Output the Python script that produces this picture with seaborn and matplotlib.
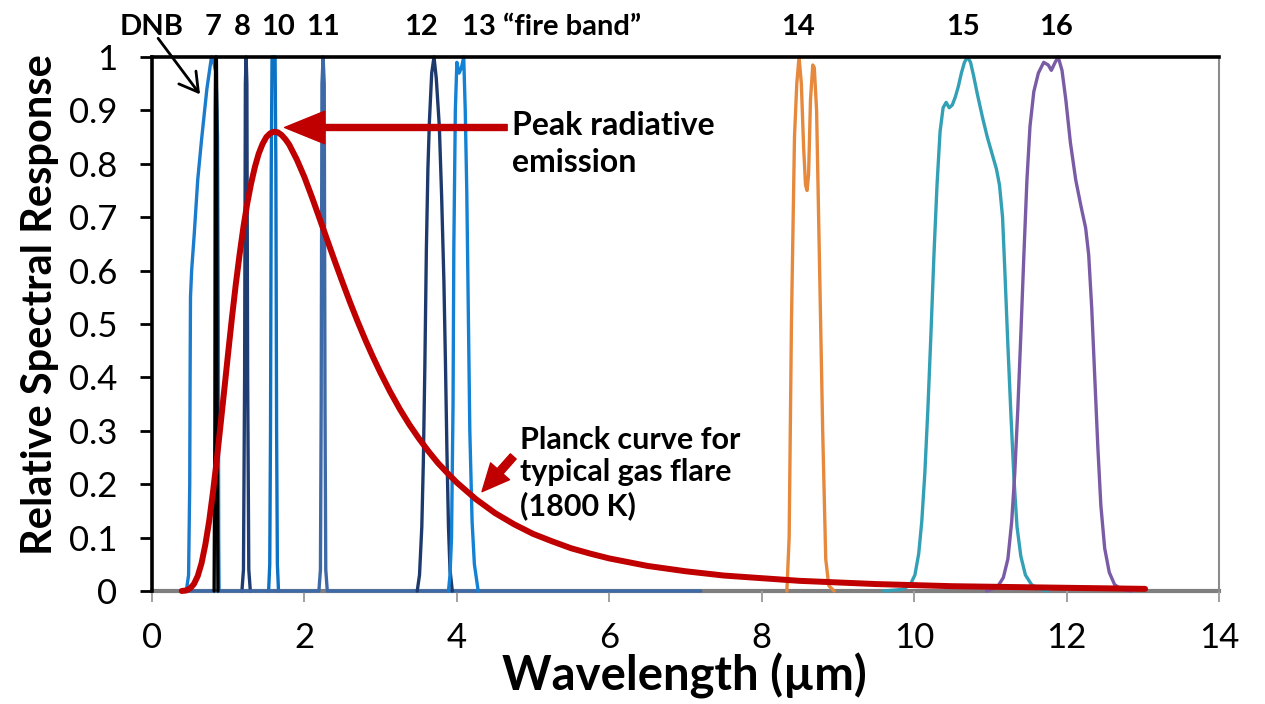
import matplotlib
matplotlib.use("Agg")
import matplotlib.pyplot as plt
import seaborn as sns

sns.set_theme(style="white")
plt.rcParams["font.family"] = ["Lato", "DejaVu Sans"]

# ---------------- spectral response of the VIIRS bands ----------------
dnb_wl = [0.45, 0.48, 0.495, 0.50, 0.505, 0.52, 0.555, 0.60, 0.65, 0.72, 0.76, 0.78, 0.81, 0.84, 0.86, 0.87, 0.875, 0.88]
dnb_rsp = [0.0, 0.03, 0.2, 0.4, 0.55, 0.6, 0.67, 0.77, 0.845, 0.94, 0.98, 1.0, 0.99, 0.97, 0.85, 0.5, 0.1, 0.0]

m7_wl = [0.815, 0.825, 0.83, 0.835, 0.845, 0.85, 0.855, 0.865]
m7_rsp = [0.0, 0.3, 0.9, 1.0, 1.0, 0.9, 0.3, 0.0]

m8_wl = [1.18, 1.20, 1.215, 1.225, 1.235, 1.245, 1.255, 1.27, 1.29]
m8_rsp = [0.0, 0.04, 0.4, 0.95, 1.0, 0.95, 0.4, 0.04, 0.0]

m10_wl = [1.53, 1.545, 1.555, 1.565, 1.575, 1.615, 1.625, 1.635, 1.645, 1.66]
m10_rsp = [0.0, 0.05, 0.3, 0.8, 1.0, 1.0, 0.8, 0.3, 0.05, 0.0]

# M11 series also carries the zero baseline out to 7.2 um
m11_wl = [0.38, 2.19, 2.21, 2.22, 2.23, 2.245, 2.26, 2.27, 2.28, 2.30, 7.2]
m11_rsp = [0.0, 0.0, 0.04, 0.35, 0.95, 1.0, 0.95, 0.35, 0.04, 0.0, 0.0]

m12_wl = [3.48, 3.51, 3.54, 3.56, 3.58, 3.60, 3.62, 3.64, 3.67, 3.70, 3.73, 3.77, 3.80, 3.83, 3.85, 3.87, 3.89, 3.91, 3.94]
m12_rsp = [0.0, 0.03, 0.12, 0.24, 0.42, 0.64, 0.79, 0.88, 0.97, 1.0, 0.96, 0.87, 0.74, 0.58, 0.43, 0.26, 0.12, 0.04, 0.0]

m13_wl = [3.89, 3.91, 3.93, 3.95, 3.96, 3.98, 4.00, 4.03, 4.06, 4.09, 4.11, 4.13, 4.14, 4.17, 4.20, 4.23, 4.28]
m13_rsp = [0.0, 0.03, 0.1, 0.35, 0.64, 0.9, 0.99, 0.97, 0.98, 1.0, 0.9, 0.75, 0.64, 0.3, 0.13, 0.05, 0.0]

m14_wl = [8.33, 8.36, 8.39, 8.43, 8.46, 8.49, 8.52, 8.55, 8.575, 8.595, 8.615, 8.64, 8.67, 8.69, 8.72, 8.76, 8.80, 8.84, 8.88, 8.95]
m14_rsp = [0.0, 0.1, 0.5, 0.85, 0.95, 1.0, 0.95, 0.83, 0.76, 0.75, 0.78, 0.92, 0.985, 0.98, 0.9, 0.6, 0.3, 0.06, 0.01, 0.0]

m15_wl = [9.60, 9.85, 9.95, 10.01, 10.06, 10.10, 10.14, 10.18, 10.22, 10.26, 10.30, 10.34, 10.38, 10.42,
          10.46, 10.50, 10.54, 10.58, 10.62, 10.66, 10.70, 10.74, 10.78, 10.83, 10.90, 10.96, 11.02, 11.08,
          11.12, 11.16, 11.19, 11.23, 11.27, 11.31, 11.35, 11.40, 11.46, 11.54, 11.63, 11.75]
m15_rsp = [0.0, 0.003, 0.012, 0.03, 0.07, 0.13, 0.22, 0.34, 0.48, 0.63, 0.76, 0.86, 0.905, 0.915,
           0.905, 0.91, 0.925, 0.945, 0.97, 0.99, 1.0, 0.99, 0.965, 0.93, 0.885, 0.85, 0.82, 0.79,
           0.76, 0.70, 0.60, 0.46, 0.33, 0.21, 0.12, 0.065, 0.03, 0.012, 0.004, 0.0]

m16_wl = [10.95, 11.09, 11.17, 11.23, 11.28, 11.32, 11.36, 11.40, 11.44, 11.48, 11.52, 11.57, 11.63, 11.70,
          11.76, 11.80, 11.85, 11.89, 11.94, 11.99, 12.05, 12.12, 12.19, 12.25, 12.29, 12.33, 12.37, 12.41,
          12.45, 12.50, 12.56, 12.63, 12.72, 12.85]
m16_rsp = [0.0, 0.007, 0.025, 0.06, 0.13, 0.22, 0.34, 0.48, 0.63, 0.77, 0.87, 0.935, 0.97, 0.99,
           0.985, 0.975, 0.99, 1.0, 0.975, 0.92, 0.84, 0.77, 0.72, 0.68, 0.63, 0.53, 0.40, 0.27,
           0.16, 0.08, 0.035, 0.012, 0.003, 0.0]

# ---------------- Planck curve of an 1800 K flare (relative) ----------------
planck_wl = [0.39, 0.45, 0.50, 0.55, 0.60, 0.65, 0.70, 0.75, 0.80, 0.85, 0.90, 0.95, 1.0, 1.05, 1.1, 1.15,
             1.2, 1.25, 1.3, 1.35, 1.4, 1.45, 1.5, 1.55, 1.6, 1.65, 1.7, 1.75, 1.8, 1.9, 2.0, 2.1, 2.2,
             2.3, 2.4, 2.5, 2.6, 2.7, 2.8, 2.9, 3.0, 3.125, 3.25, 3.375, 3.5, 3.625, 3.75, 3.875, 4.0,
             4.25, 4.5, 4.75, 5.0, 5.25, 5.5, 5.75, 6.0, 6.25, 6.5, 6.75, 7.0, 7.5, 8.0, 8.5, 9.0, 9.5,
             10.0, 10.5, 11.0, 12.0, 13.03]
planck_val = [0.0, 0.001, 0.005, 0.013, 0.028, 0.052, 0.087, 0.131, 0.185, 0.246, 0.312, 0.379, 0.447,
              0.513, 0.575, 0.631, 0.682, 0.726, 0.763, 0.794, 0.819, 0.837, 0.850, 0.857, 0.860, 0.859,
              0.854, 0.846, 0.836, 0.808, 0.775, 0.737, 0.697, 0.657, 0.617, 0.578, 0.540, 0.504, 0.470,
              0.438, 0.408, 0.373, 0.341, 0.312, 0.286, 0.262, 0.240, 0.221, 0.203, 0.172, 0.146, 0.125,
              0.107, 0.093, 0.080, 0.070, 0.061, 0.054, 0.047, 0.042, 0.037, 0.029, 0.024, 0.019, 0.016,
              0.013, 0.011, 0.009, 0.008, 0.006, 0.004]

bands = [
    ("DNB", dnb_wl, dnb_rsp, "#1b7bcc"),
    ("M8", m8_wl, m8_rsp, "#1f3d73"),
    ("M10", m10_wl, m10_rsp, "#0b72c4"),
    ("M11", m11_wl, m11_rsp, "#3d6aa6"),
    ("M12", m12_wl, m12_rsp, "#1e3a6d"),
    ("M13", m13_wl, m13_rsp, "#1381d4"),
    ("M14", m14_wl, m14_rsp, "#e6893c"),
    ("M15", m15_wl, m15_rsp, "#33a0b6"),
    ("M16", m16_wl, m16_rsp, "#7a5ba5"),
    ("M7", m7_wl, m7_rsp, "#000000"),
]

top_labels = ["DNB", "7", "8", "10", "11", "12", "14", "15", "16"]
top_label_x = [0.0, 0.80, 1.18, 1.65, 2.24, 3.53, 8.48, 10.64, 11.86]

fig = plt.figure(figsize=(12.65, 7.04), dpi=100)
ax = fig.add_axes([152 / 1265, 1 - 591 / 704, (1219 - 152) / 1265, (591 - 57) / 704])

for name, wl, rsp, col in bands:
    sns.lineplot(x=wl, y=rsp, ax=ax, color=col, lw=2.4, sort=False, estimator=None, legend=False)

sns.lineplot(x=planck_wl, y=planck_val, ax=ax, color="#c00000", lw=4.3, sort=False, estimator=None, legend=False)
for ln in ax.lines:
    ln.set_clip_on(False)
    ln.set_solid_capstyle("round")
    ln.set_solid_joinstyle("round")
ax.lines[-1].set_zorder(5)

ax.set_xlim(0, 14)
ax.set_ylim(0, 1)
ax.set_xticks(range(0, 15, 2))
ax.set_yticks([i / 10 for i in range(11)])
ax.set_yticklabels(["0"] + [f"{i / 10:.1f}" for i in range(1, 10)] + ["1"])
ax.set_xlabel("")
ax.set_ylabel("")

for side in ("left", "top"):
    ax.spines[side].set_color("black")
    ax.spines[side].set_linewidth(2.6)
ax.spines["right"].set_color("#8c8c8c")
ax.spines["right"].set_linewidth(1.5)
ax.spines["bottom"].set_color("#7f7f7f")
ax.spines["bottom"].set_linewidth(3)
ax.spines["bottom"].set_zorder(0.5)

ax.tick_params(axis="y", left=True, direction="out", length=9, width=2, color="black",
               pad=16, labelsize=25, labelcolor="black")
ax.tick_params(axis="x", bottom=True, direction="out", length=8, width=1.4, color="#a0a0a0",
               pad=14, labelsize=25, labelcolor="black")

# axis titles
fig.text(684 / 1265, 1 - 676 / 704, "Wavelength (µm)", ha="center", va="center",
         fontsize=34, fontweight="bold", color="black")
fig.text(40 / 1265, 1 - 305 / 704, "Relative Spectral Response", ha="center", va="center",
         rotation=90, fontsize=30, fontweight="bold", color="black")

# band numbers above the frame
for lab, xv in zip(top_labels, top_label_x):
    ax.text(xv, 1.057, lab, ha="center", va="center", fontsize=21, fontweight="bold",
            color="black", clip_on=False)
ax.text(4.07, 1.057, "13 \u201cfire band\u201d", ha="left", va="center", fontsize=21,
        fontweight="bold", color="black", clip_on=False)

# DNB pointer
ax.annotate("", xy=(0.63, 0.93), xytext=(0.08, 1.035), annotation_clip=False,
            arrowprops=dict(arrowstyle="->,head_length=0.6,head_width=0.35", lw=2, color="black",
                            mutation_scale=22, shrinkA=0, shrinkB=0))

# peak emission pointer
ax.annotate("", xy=(1.74, 0.868), xytext=(4.66, 0.868), annotation_clip=False,
            arrowprops=dict(arrowstyle="simple,head_length=0.8,head_width=0.65,tail_width=0.12",
                            color="#c00000", mutation_scale=36, shrinkA=0, shrinkB=0))
ax.text(4.73, 0.837, "Peak radiative\nemission", ha="left", va="center", fontsize=23,
        fontweight="bold", color="black", linespacing=1.3)

# Planck curve pointer
ax.annotate("", xy=(4.33, 0.186), xytext=(4.74, 0.252), annotation_clip=False,
            arrowprops=dict(arrowstyle="simple,head_length=0.7,head_width=0.65,tail_width=0.2",
                            color="#c00000", mutation_scale=28, shrinkA=0, shrinkB=0))
ax.text(4.83, 0.221, "Planck curve for\ntypical gas flare\n(1800 K)", ha="left", va="center",
        fontsize=22, fontweight="bold", color="black", linespacing=1.2)

fig.savefig("out.png", dpi=100, facecolor="white")
